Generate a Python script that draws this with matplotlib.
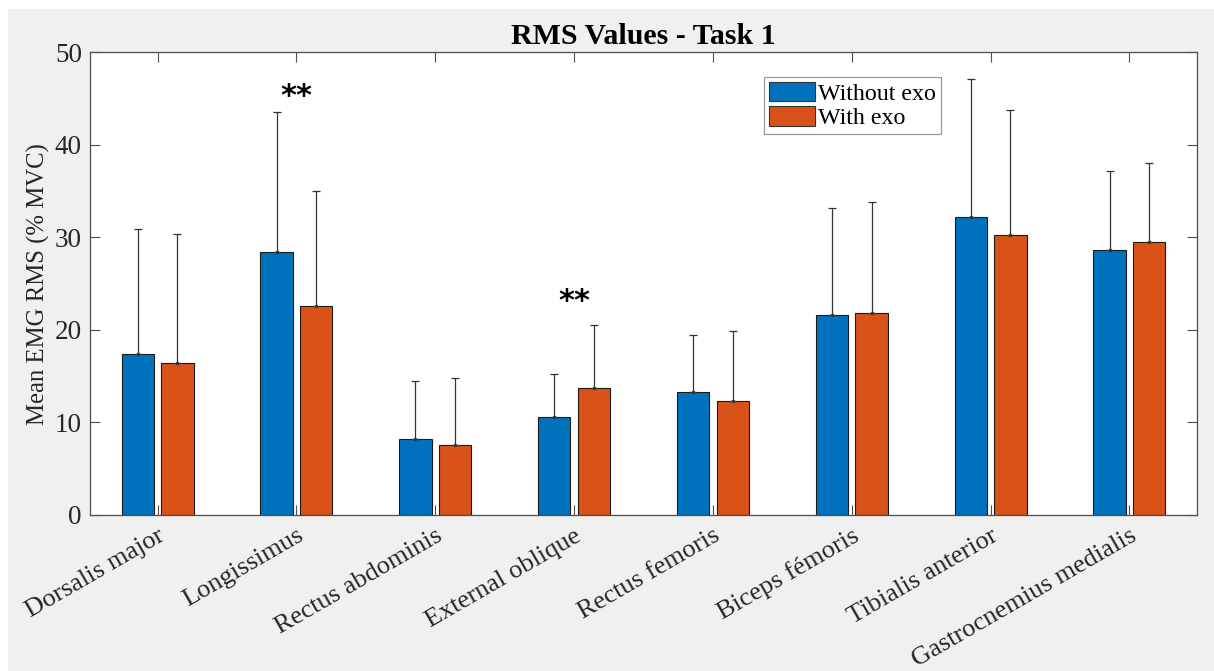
import numpy as np
import matplotlib
matplotlib.use("Agg")
import matplotlib.pyplot as plt
from matplotlib.patches import Rectangle

muscles = ["Dorsalis major", "Longissimus", "Rectus abdominis", "External oblique",
           "Rectus femoris", "Biceps fémoris", "Tibialis anterior", "Gastrocnemius medialis"]
mean_without = [17.4, 28.4, 8.2, 10.6, 13.3, 21.6, 32.2, 28.6]
mean_with = [16.4, 22.6, 7.6, 13.7, 12.3, 21.8, 30.3, 29.5]
sd_without = [13.5, 15.1, 6.3, 4.6, 6.2, 11.6, 14.9, 8.6]
sd_with = [14.0, 12.4, 7.2, 6.8, 7.6, 12.0, 13.5, 8.5]
series_names = ["Without exo", "With exo"]
# significance markers: (group index, height)
sig_marks = [(1, 45.2), (3, 23.1)]

BLUE = "#0072BD"
ORANGE = "#D95319"
BG = "#f0f0f0"
AXC = "#4d4d4d"

plt.rcParams["font.family"] = ["Liberation Serif", "DejaVu Serif"]

W, H = 1214, 671
fig = plt.figure(figsize=(W / 100, H / 100), dpi=100, facecolor="white")
fig.patches.append(Rectangle((8 / W, 0), 1 - 8 / W, (H - 9) / H,
                             transform=fig.transFigure, facecolor=BG,
                             edgecolor="none", zorder=-10))

ax = fig.add_axes([90.3 / W, (H - 515) / H, (1196.7 - 90.3) / W, (515 - 52.3) / H])
ax.set_facecolor("white")

x = np.arange(1, len(muscles) + 1)
off, bw = 0.143, 0.232

ax.bar(x - off, mean_without, bw, color=BLUE, edgecolor="#1a1a1a", linewidth=0.8,
       label=series_names[0], zorder=2)
ax.bar(x + off, mean_with, bw, color=ORANGE, edgecolor="#1a1a1a", linewidth=0.8,
       label=series_names[1], zorder=2)

zeros = np.zeros(len(muscles))
for xs, m, s in [(x - off, mean_without, sd_without), (x + off, mean_with, sd_with)]:
    ax.errorbar(xs, m, yerr=[zeros, s], fmt=".", color="#333333", markersize=3,
                elinewidth=0.9, capsize=3.1, capthick=0.9, zorder=3)

for gi, h in sig_marks:
    ax.text(x[gi], h, "**", ha="center", va="center", fontsize=22,
            fontweight="bold", family="DejaVu Sans", color="black", zorder=4)

ax.set_xlim(0.515, 8.485)
ax.set_ylim(0, 50)
ax.set_yticks([0, 10, 20, 30, 40, 50])
ax.set_xticks(x)
ax.set_xticklabels(muscles, rotation=30, ha="right", va="top",
                   rotation_mode="anchor", fontsize=19)
ax.tick_params(axis="x", pad=7)
ax.tick_params(axis="y", labelsize=19.5, pad=6)
ax.tick_params(direction="in", length=7.2, width=0.8, color=AXC,
               top=True, right=True, labelcolor="#262626")
for sp in ax.spines.values():
    sp.set_color(AXC)
    sp.set_linewidth(0.9)

ax.set_ylabel("Mean EMG RMS (% MVC)", fontsize=17.8, color="#262626")
ax.yaxis.set_label_coords((50 - 90.3) / (1196.7 - 90.3), 0.5)
ax.set_title("RMS Values - Task 1", fontsize=21.5, fontweight="bold", pad=6)

leg = ax.legend(loc="upper left", bbox_to_anchor=(0.609, 0.947), borderaxespad=0,
                fontsize=17.3, frameon=True, fancybox=False, handlelength=1.9,
                handleheight=0.88, handletextpad=0.15, labelspacing=0.05,
                borderpad=0.2)
leg.get_frame().set_edgecolor("#808080")
leg.get_frame().set_linewidth(0.9)
for p in leg.get_patches():
    p.set_edgecolor("#333333")

fig.savefig("out.png", dpi=100, facecolor=fig.get_facecolor())
